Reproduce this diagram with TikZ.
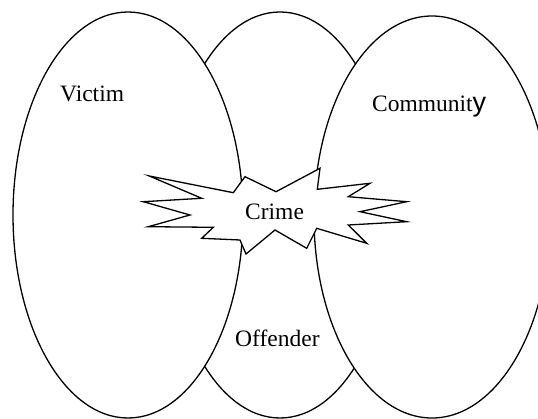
\documentclass[tikz,border=0pt]{standalone}
\usepackage{fontspec}
\setmainfont{Liberation Serif}
\newfontfamily\arialfont{Liberation Sans}
\usetikzlibrary{shapes.geometric}

\begin{document}
\begin{tikzpicture}[x=1pt,y=-1pt]
\tikzset{party set/.style={draw, ellipse, fill=white, line width=1.3pt, inner sep=0pt}}
\tikzset{party label/.style={inner sep=0pt, anchor=base west, font=\fontsize{23.5}{28}\selectfont}}
\useasboundingbox (0,0) rectangle (538,419);
\clip (0,0) rectangle (538,419);
		\node[party set, minimum width=226pt, minimum height=406pt] (offender) at (280,215) {};
		\node[party set, minimum width=230pt, minimum height=406pt] (victim) at (128,215) {};
		\node[party set, minimum width=236pt, minimum height=402pt] (community) at (432,217) {};
		% the crime burst
		\draw[line width=1.3pt, fill=white]
			(149.3,176) -- (233.3,192.7) -- (245,176.7) -- (276,191.7)
			-- (320,168.3) -- (317.3,189.3) -- (370,183.3) -- (348.3,196.7)
			-- (406.7,201.7) -- (360,211.7) -- (406.7,221.7) -- (348.3,225)
			-- (366.7,243.3) -- (316.7,228.3) -- (306.7,248.3) -- (275,230)
			-- (246,254) -- (240,240) -- (201.7,238.3) -- (213.3,227.3)
			-- (148.3,226.7) -- (190,215) -- (143.3,201.7) -- (201.7,198.3)
			-- cycle;
		\node[party label] (victimtext) at (60,101.7) {Victim};
		\node[party label] (communitytext) at (372,111.7) {Communit{\fontsize{27}{27}\arialfont y}};
		\node[party label] (crimetext) at (245,220) {Crime};
		\node[party label] (offendertext) at (235,346.7) {Offender};
\end{tikzpicture}
\end{document}
